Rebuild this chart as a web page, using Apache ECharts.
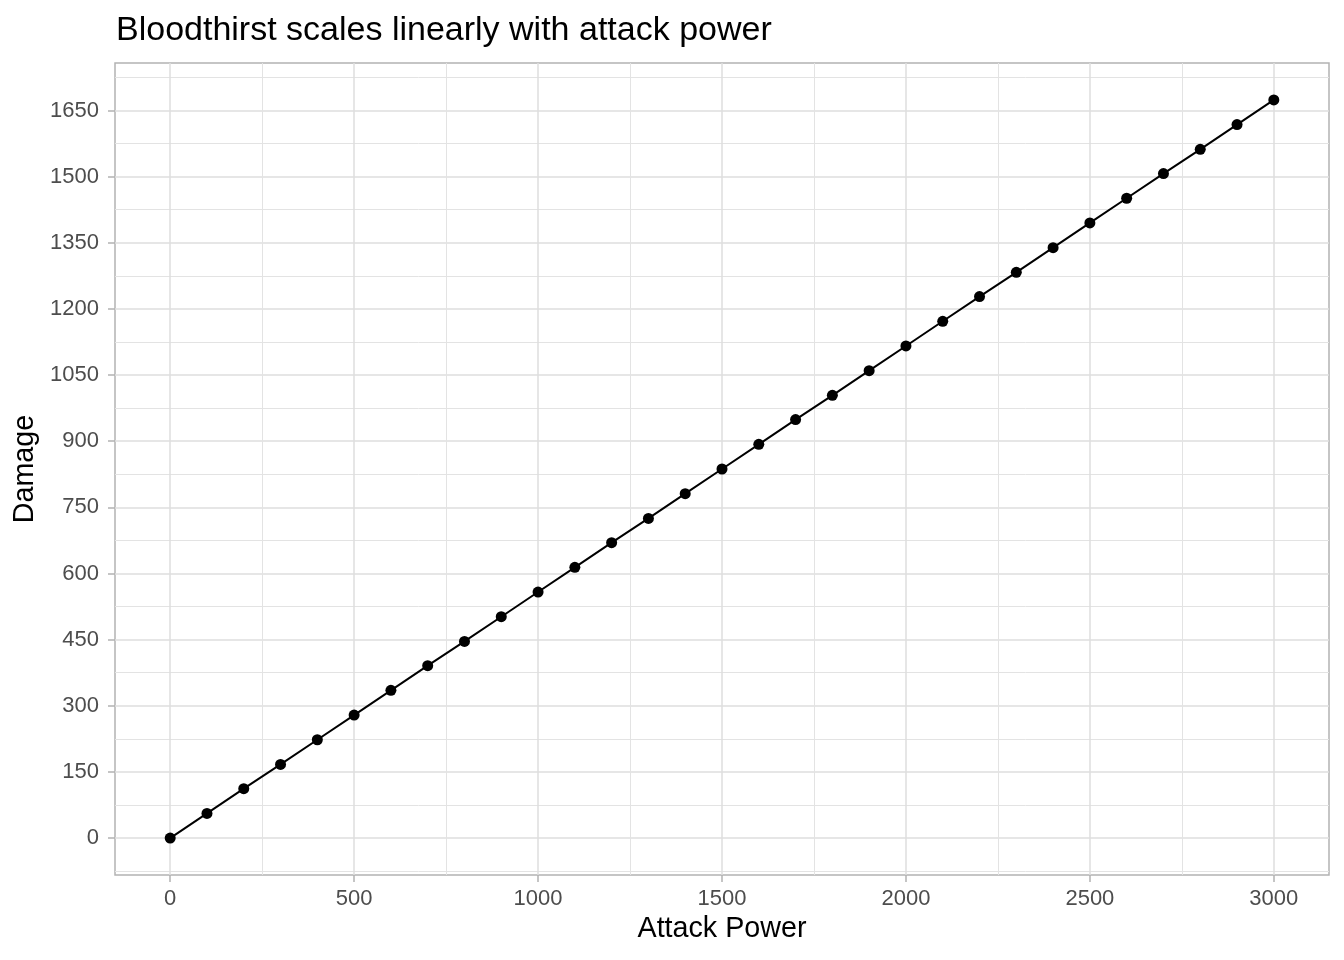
<!DOCTYPE html>
<html style="height: 100%">
<head>
<meta charset="utf-8">
<script src="https://cdn.jsdelivr.net/npm/echarts@6/dist/echarts.min.js"></script>
</head>
<body style="height: 100%; margin: 0; background: #fff">
<div id="container" style="width: 1344px; height: 960px"></div>
<script type="text/javascript">
// attack power vs damage
var attackPower = [0, 100, 200, 300, 400, 500, 600, 700, 800, 900,
    1000, 1100, 1200, 1300, 1400, 1500, 1600, 1700, 1800, 1900,
    2000, 2100, 2200, 2300, 2400, 2500, 2600, 2700, 2800, 2900, 3000];
var damage = [0, 56, 112, 167, 223, 279, 335, 391, 446, 502,
    558, 614, 670, 725, 781, 837, 893, 949, 1004, 1060,
    1116, 1172, 1228, 1283, 1339, 1395, 1451, 1507, 1562, 1618, 1674];

var xMajor = [0, 500, 1000, 1500, 2000, 2500, 3000];
var xMinor = [250, 750, 1250, 1750, 2250, 2750];
var yMajor = [0, 150, 300, 450, 600, 750, 900, 1050, 1200, 1350, 1500, 1650];
var yMinor = [-75, 75, 225, 375, 525, 675, 825, 975, 1125, 1275, 1425, 1575, 1725];

var FONT = 'Liberation Sans, Arial, sans-serif';
var xRange = [-150, 3150];
var yRange = [-83.7, 1757.7];

var points = attackPower.map(function (x, i) { return [x, damage[i]]; });

function plain(v) { return String(v); }

function minorAxis(range, values) {
    return {
        type: 'value', min: range[0], max: range[1],
        axisLine: {show: false, onZero: false},
        axisTick: {show: false, customValues: values},
        axisLabel: {show: false, customValues: values},
        splitLine: {show: true, lineStyle: {color: '#E3E3E3', width: 1}}
    };
}

var dom = document.getElementById('container');
var myChart = echarts.init(dom);
var option = {
    animation: false,
    title: {
        text: 'Bloodthirst scales linearly with attack power',
        left: 111, top: 9,
        textStyle: {fontFamily: FONT, fontSize: 34, fontWeight: 'normal', color: '#000'}
    },
    grid: {
        left: 115, right: 15, top: 63, bottom: 85,
        show: true, borderColor: '#B3B3B3', borderWidth: 1.5,
        backgroundColor: 'transparent'
    },
    xAxis: [{
        type: 'value', min: xRange[0], max: xRange[1],
        name: 'Attack Power', nameLocation: 'middle', nameGap: 40,
        nameTextStyle: {fontFamily: FONT, fontSize: 28.7, color: '#000'},
        axisLine: {show: false, onZero: false},
        axisTick: {show: true, inside: false, length: 7, customValues: xMajor,
            lineStyle: {color: '#B3B3B3', width: 1.5}},
        axisLabel: {customValues: xMajor, margin: 13, formatter: plain,
            fontFamily: FONT, fontSize: 22, color: '#4D4D4D'},
        splitLine: {show: true, lineStyle: {color: '#DEDEDE', width: 1.5}}
    }, minorAxis(xRange, xMinor)],
    yAxis: [{
        type: 'value', min: yRange[0], max: yRange[1],
        name: 'Damage', nameLocation: 'middle', nameGap: 73, nameRotate: 90,
        nameTextStyle: {fontFamily: FONT, fontSize: 28.7, color: '#000'},
        axisLine: {show: false, onZero: false},
        axisTick: {show: true, inside: false, length: 7, customValues: yMajor,
            lineStyle: {color: '#B3B3B3', width: 1.5}},
        axisLabel: {customValues: yMajor, margin: 16, formatter: plain,
            fontFamily: FONT, fontSize: 22, color: '#4D4D4D'},
        splitLine: {show: true, lineStyle: {color: '#DEDEDE', width: 1.5}}
    }, minorAxis(yRange, yMinor)],
    series: [{
        type: 'line',
        data: points,
        symbol: 'circle',
        symbolSize: 11,
        showAllSymbol: true,
        lineStyle: {color: '#000', width: 2},
        itemStyle: {color: '#000'},
        z: 5
    }]
};
myChart.setOption(option);
</script>
</body>
</html>
